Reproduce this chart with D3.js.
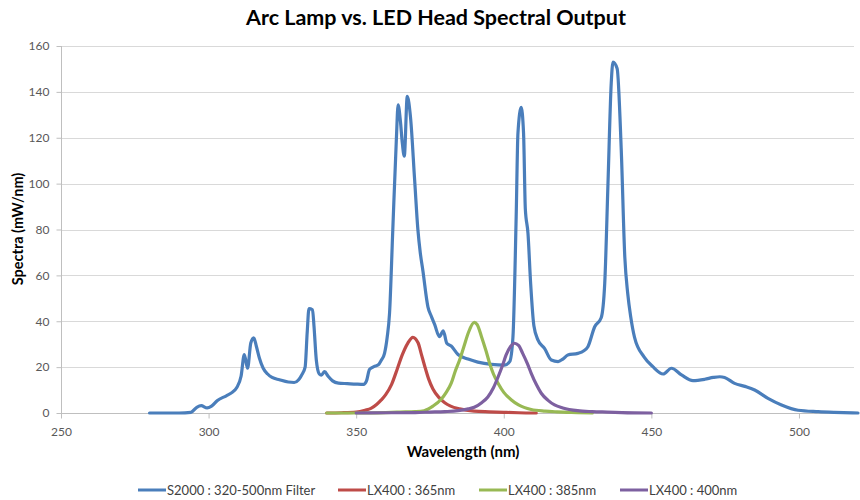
<!DOCTYPE html>
<html>
<head>
<meta charset="utf-8">
<script src="https://cdn.jsdelivr.net/npm/d3@7"></script>
<style>
  body { margin: 0; background: #fff; }
  svg { display: block; font-family: Lato, 'Open Sans', sans-serif; }
</style>
</head>
<body>
<svg class="chart"></svg>
<script>
const width = 860
const height = 500
const margin = { top: 46, right: 2, bottom: 87, left: 61 }

// S2000 arc lamp, 320-500nm filter
const s2000Nm = [280, 285, 290, 294, 296, 297.5, 299.5, 301, 303, 306, 308, 309.5, 311, 312.1, 313.2, 314.3, 315.3, 316.2, 317.2, 318.5,
  320, 321.5, 324, 327, 329, 330.5, 331.5, 332.7, 333.4, 334, 335.2, 335.7, 336.5, 337.5, 338.2, 339.3, 340.5, 342, 344, 347,
  350, 352.5, 353.5, 354.5, 356, 357.5, 358.5, 359.6, 360.5, 361.3, 362.4, 363.6, 364.2, 365, 365.6, 366.3, 367.3, 368.4, 369.8, 370.9,
  371.7, 372.6, 374.3, 375.5, 376.6, 378.2, 379.5, 380.7, 382.2, 384.5, 387.9, 391.2, 395.8, 400.3, 402, 403.1, 404.2, 404.8, 405.9, 406.7,
  407.3, 408.2, 409.1, 410.2, 411.6, 413.8, 416.1, 418.4, 420, 421.7, 425.1, 427, 428.5, 430.8, 433, 434.2, 435.3, 436.4, 437, 438.4,
  439.8, 441, 442, 443, 444.3, 447.5, 450.5, 454, 456.8, 460.2, 464.1, 468.1, 471, 473.2, 474.8, 478.2, 482, 485, 489.5, 494.1,
  499.7, 506.5, 512, 520]
const s2000Val = [0, 0, 0, 0.3, 2.5, 3.2, 2.2, 3, 5.5, 7.5, 9, 11, 16, 25.5, 19.5, 30.5, 32.8, 29, 24, 19.5,
  17, 15.5, 14.5, 13.5, 13.3, 14.5, 16.5, 20, 35, 45.5, 45, 38, 23, 17, 16.5, 18, 16, 14, 13, 12.8,
  12.6, 12.5, 14, 19, 20.2, 21, 23, 26, 33, 43.5, 79.8, 119, 134.3, 127, 118, 112, 138, 129, 101.6, 80,
  70, 62, 46.3, 42, 38.5, 33.3, 35.8, 30.4, 29.2, 25.5, 23.5, 22.2, 21.2, 20.9, 22.4, 33, 85.6, 122, 133.2, 122,
  89, 78.3, 56.5, 38, 31.8, 28.2, 23.1, 22.4, 23.5, 25.3, 26, 27, 28.9, 37.6, 41.5, 56.5, 100, 143.7, 153, 150.2,
  114.6, 68, 52, 42, 33, 24.5, 20.2, 17, 19.5, 16.6, 14.1, 14.7, 15.5, 15.8, 15.5, 12.9, 11.5, 10, 6.4, 3.5,
  1.2, 0.6, 0.3, 0]

// LX400 LED heads
const lx365Nm = [340, 345, 350, 353, 355, 357, 358.5, 360, 362, 364, 365.5, 367.5, 369.2, 371, 372, 373.2, 374.5, 376, 378, 380,
  382, 385, 390, 395, 400, 405, 411]
const lx365Val = [0, 0.1, 0.4, 1.2, 2, 3.8, 5.7, 8, 12.5, 19.5, 25, 30.5, 33, 30.5, 26, 20.5, 15, 10.5, 6.8, 4.5,
  3, 1.8, 0.8, 0.5, 0.3, 0.1, 0]

const lx385Nm = [340, 350, 360, 365, 370, 373, 376, 378.8, 380.5, 382.2, 383.5, 385, 386.5, 388, 390, 391, 392.4, 394, 395.2, 396.5,
  398.1, 400, 402.6, 405, 409.3, 414, 418, 425, 430]
const lx385Val = [0, 0, 0.2, 0.4, 0.6, 1, 3, 6, 9, 13, 18, 23, 29, 35, 39.5, 38.5, 33.5, 27, 21.7, 17,
  12.9, 9, 5.7, 3.5, 1.5, 0.8, 0.5, 0.2, 0]

const lx400Nm = [350, 360, 370, 375, 380, 384.5, 388, 390, 392.5, 394.6, 396.5, 398.1, 399.5, 400.8, 402.3, 403.6, 405, 406.4, 408, 409.3,
  411, 412.7, 415, 417.2, 420, 425, 430, 435, 440, 450]
const lx400Val = [0, 0.1, 0.2, 0.4, 0.6, 1, 1.8, 2.5, 4.5, 7, 11, 15.8, 20.5, 25.3, 29, 30.4, 29.5, 26, 21.5, 17.3,
  12.5, 8.6, 5.5, 3.5, 2.2, 1, 0.6, 0.4, 0.2, 0]

const seriesNames = ['S2000 : 320-500nm Filter', 'LX400 : 365nm', 'LX400 : 385nm', 'LX400 : 400nm']
const seriesColors = ['#4a7ebb', '#be4b48', '#98b954', '#7d60a0']
const xTicks = [250, 300, 350, 400, 450, 500]
const yTicks = [0, 20, 40, 60, 80, 100, 120, 140, 160]

const series = [
  [s2000Nm, s2000Val],
  [lx365Nm, lx365Val],
  [lx385Nm, lx385Val],
  [lx400Nm, lx400Val]
].map(([nm, val], i) => ({
  name: seriesNames[i],
  color: seriesColors[i],
  points: nm.map((x, j) => ({ x, y: val[j] }))
}))

const x = d3.scaleLinear().domain([250, 520]).range([margin.left, width - margin.right])
const y = d3.scaleLinear().domain([0, 160]).range([height - margin.bottom, margin.top])

const svg = d3.select('.chart').attr('width', width).attr('height', height)

// gridlines
svg.append('g')
  .attr('stroke', '#d9d9d9')
  .attr('stroke-width', 1)
  .selectAll('line')
  .data(yTicks.filter(d => d > 0))
  .join('line')
  .attr('x1', margin.left)
  .attr('x2', width - margin.right - 4)
  .attr('y1', d => Math.round(y(d)) + 0.5)
  .attr('y2', d => Math.round(y(d)) + 0.5)

const xAxis = g => g
  .attr('transform', `translate(0,${Math.round(y(0)) + 0.5})`)
  .call(d3.axisBottom(x).tickValues(xTicks).tickSize(5).tickPadding(9))
  .call(g => g.select('.domain').attr('stroke', '#bfbfbf').attr('d', `M${margin.left},0H${width - margin.right - 4}`))
  .call(g => g.selectAll('.tick line').attr('stroke', '#bfbfbf'))
  .call(g => g.selectAll('.tick text').attr('fill', '#595959').attr('font-size', 12))
  .call(g => g.attr('font-family', null))

const yAxis = g => g
  .attr('transform', `translate(${margin.left + 0.5},0)`)
  .call(d3.axisLeft(y).tickValues(yTicks).tickSize(5).tickPadding(7))
  .call(g => g.select('.domain').attr('stroke', '#bfbfbf').attr('d', `M0,${y(0)}V${y(160)}`))
  .call(g => g.selectAll('.tick line').attr('stroke', '#bfbfbf'))
  .call(g => g.selectAll('.tick text').attr('fill', '#595959').attr('font-size', 12))
  .call(g => g.attr('font-family', null))

svg.append('g').call(xAxis)
svg.append('g').call(yAxis)

const line = d3.line()
  .x(d => x(d.x))
  .y(d => y(d.y))
  .curve(d3.curveMonotoneX)

svg.append('g')
  .attr('fill', 'none')
  .attr('stroke-width', 3.2)
  .attr('stroke-linejoin', 'round')
  .attr('stroke-linecap', 'round')
  .selectAll('path')
  .data(series)
  .join('path')
  .attr('stroke', d => d.color)
  .attr('d', d => line(d.points))

// titles
svg.append('text')
  .attr('x', 436)
  .attr('y', 25)
  .attr('text-anchor', 'middle')
  .attr('font-weight', 'bold')
  .attr('font-size', 21.5)
  .attr('fill', '#000')
  .text('Arc Lamp vs. LED Head Spectral Output')

svg.append('text')
  .attr('x', 463)
  .attr('y', 457)
  .attr('text-anchor', 'middle')
  .attr('font-weight', 'bold')
  .attr('font-size', 15)
  .attr('fill', '#000')
  .text('Wavelength (nm)')

svg.append('text')
  .attr('transform', 'translate(23,229) rotate(-90)')
  .attr('text-anchor', 'middle')
  .attr('font-weight', 'bold')
  .attr('font-size', 14.5)
  .attr('fill', '#000')
  .text('Spectra (mW/nm)')

// legend
const legendX = [138, 338, 479, 620]
const legend = svg.append('g')
  .selectAll('g')
  .data(series)
  .join('g')
  .attr('transform', (d, i) => `translate(${legendX[i]},490)`)

legend.append('line')
  .attr('x1', 0)
  .attr('x2', 28)
  .attr('stroke', d => d.color)
  .attr('stroke-width', 3)

legend.append('text')
  .attr('x', 29)
  .attr('dy', '0.35em')
  .attr('font-size', 13)
  .attr('fill', '#404040')
  .text(d => d.name)
</script>
</body>
</html>
